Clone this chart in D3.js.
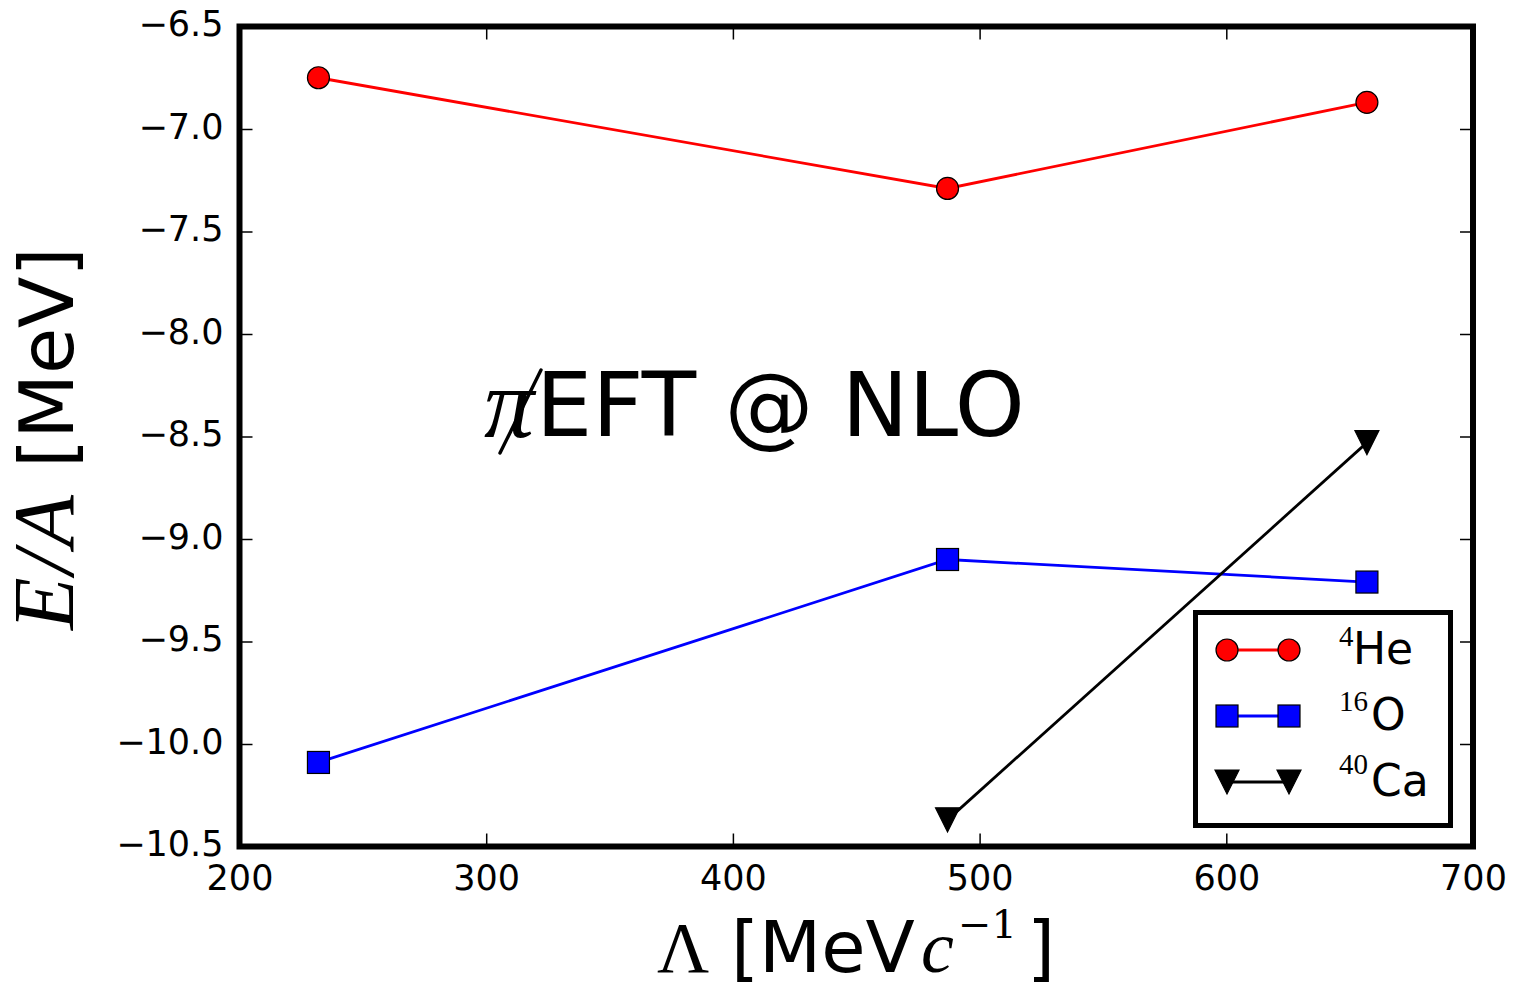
<!DOCTYPE html>
<html>
<head>
<meta charset="utf-8">
<script src="https://cdn.jsdelivr.net/npm/d3@7"></script>
<style>
  html, body { margin: 0; padding: 0; background: #fff; }
  svg { display: block; }
</style>
</head>
<body>
<svg id="chart" width="1513" height="983"></svg>
<script>
// Cutoff values (MeV c^-1) and binding energy per nucleon (MeV)
const lambdas = [232, 487, 657];
const he4 = [-6.75, -7.29, -6.87];
const o16 = [-10.09, -9.10, -9.21];
const ca40Lambdas = [487, 657];
const ca40 = [-10.37, -8.53];

const xTicks = [200, 300, 400, 500, 600, 700];
const yTicks = [-6.5, -7.0, -7.5, -8.0, -8.5, -9.0, -9.5, -10.0, -10.5];

const legendItems = [
  { sup: "4", name: "He", color: "#ff0000", marker: "circle" },
  { sup: "16", name: "O", color: "#0000ff", marker: "square" },
  { sup: "40", name: "Ca", color: "#000000", marker: "triangle" }
];

const svg = d3.select("#chart");
const plotLeft = 239.5, plotRight = 1473, plotTop = 26.5, plotBottom = 846.5;

const x = d3.scaleLinear().domain([200, 700]).range([plotLeft, plotRight]);
const y = d3.scaleLinear().domain([-10.5, -6.5]).range([plotBottom, plotTop]);

const SANS = "'DejaVu Sans', sans-serif";
const SERIF = "'Liberation Serif', 'DejaVu Serif', serif";

// Axes with inward ticks on all four sides
function styleAxis(g) {
  g.select(".domain").remove();
  g.selectAll(".tick line").attr("stroke", "#000").attr("stroke-width", 1.5);
  g.selectAll(".tick text")
    .attr("fill", "#000")
    .style("font-family", SANS)
    .style("font-size", "35px");
}

svg.append("g")
  .attr("transform", `translate(0,${plotBottom})`)
  .call(d3.axisBottom(x).tickValues(xTicks).tickSize(-13).tickPadding(19).tickFormat(d3.format("d")))
  .call(styleAxis);

svg.append("g")
  .attr("transform", `translate(0,${plotTop})`)
  .call(d3.axisTop(x).tickValues(xTicks).tickSize(-13).tickFormat(""))
  .call(styleAxis);

const yAxisG = svg.append("g")
  .attr("transform", `translate(${plotLeft},0)`)
  .call(d3.axisLeft(y).tickValues(yTicks).tickSize(-13).tickPadding(16).tickFormat(d3.format(".1f")))
  .call(styleAxis);
yAxisG.selectAll(".tick text").attr("dy", "0.26em");

svg.append("g")
  .attr("transform", `translate(${plotRight},0)`)
  .call(d3.axisRight(y).tickValues(yTicks).tickSize(-13).tickFormat(""))
  .call(styleAxis);

// Marker drawing
function drawMarker(g, type, cx, cy, color) {
  if (type === "circle") {
    g.append("circle").attr("cx", cx).attr("cy", cy).attr("r", 11)
      .attr("fill", color).attr("stroke", "#000").attr("stroke-width", 1.2);
  } else if (type === "square") {
    g.append("rect").attr("x", cx - 11).attr("y", cy - 11).attr("width", 22).attr("height", 22)
      .attr("fill", color).attr("stroke", "#000").attr("stroke-width", 1.2);
  } else {
    const s = 12;
    g.append("path")
      .attr("d", `M${cx - s},${cy - s}L${cx + s},${cy - s}L${cx},${cy + s}Z`)
      .attr("fill", color).attr("stroke", "#000").attr("stroke-width", 1.2);
  }
}

const line = d3.line().x(d => x(d[0])).y(d => y(d[1]));
const series = [
  { xs: lambdas, ys: he4, color: "#ff0000", marker: "circle" },
  { xs: lambdas, ys: o16, color: "#0000ff", marker: "square" },
  { xs: ca40Lambdas, ys: ca40, color: "#000000", marker: "triangle" }
];

const plot = svg.append("g");
series.forEach(s => {
  const pts = s.xs.map((v, i) => [v, s.ys[i]]);
  plot.append("path").datum(pts).attr("d", line)
    .attr("fill", "none").attr("stroke", s.color).attr("stroke-width", 2.8);
  const mg = plot.append("g");
  pts.forEach(p => drawMarker(mg, s.marker, x(p[0]), y(p[1]), s.color));
});

// Annotation: pionless EFT at NLO
const ann = svg.append("g");
ann.append("text").attr("x", 484).attr("y", 437)
  .style("font-family", SERIF).style("font-style", "italic").style("font-size", "100px")
  .text("π");
ann.append("path").attr("d", "M541,370L500,453").attr("stroke", "#000").attr("stroke-width", 3.4)
  .attr("fill", "none").attr("stroke-linecap", "round");
ann.append("text").attr("x", 536).attr("y", 436)
  .style("font-family", SANS).style("font-size", "89px")
  .text("EFT @ NLO");

// Legend
const lg = svg.append("g");
lg.append("rect").attr("x", 1195.5).attr("y", 612.5).attr("width", 255).attr("height", 213)
  .attr("fill", "#fff").attr("stroke", "#000").attr("stroke-width", 5);
const rowY = [650, 716, 782];
const baseY = [664, 730, 796];
const supY = [646, 711, 774];
legendItems.forEach((it, i) => {
  lg.append("line").attr("x1", 1227).attr("x2", 1289).attr("y1", rowY[i]).attr("y2", rowY[i])
    .attr("stroke", it.color).attr("stroke-width", 2.8);
  drawMarker(lg, it.marker, 1227, rowY[i], it.color);
  drawMarker(lg, it.marker, 1289, rowY[i], it.color);
  lg.append("text").attr("x", 1339).attr("y", supY[i])
    .style("font-family", SERIF).style("font-size", "29px").text(it.sup);
  lg.append("text").attr("x", it.sup.length > 1 ? 1371 : 1353).attr("y", baseY[i])
    .style("font-family", SANS).style("font-size", "44px").text(it.name);
});

// Axes frame
svg.append("rect").attr("x", plotLeft).attr("y", plotTop)
  .attr("width", plotRight - plotLeft).attr("height", plotBottom - plotTop)
  .attr("fill", "none").attr("stroke", "#000").attr("stroke-width", 6);

// X axis label: Λ [MeV c^-1]
const xl = svg.append("g");
xl.append("text").attr("x", 657).attr("y", 972)
  .style("font-family", SERIF).style("font-size", "72px").text("Λ");
xl.append("text").attr("x", 731).attr("y", 972)
  .style("font-family", SANS).style("font-size", "72px").text("[MeV");
xl.append("text").attr("x", 921).attr("y", 972)
  .style("font-family", SERIF).style("font-style", "italic").style("font-size", "74px").text("c");
xl.append("text").attr("x", 958).attr("y", 938)
  .style("font-family", "'DejaVu Serif', serif").style("font-size", "40px").text("−1");
xl.append("text").attr("x", 1055).attr("y", 972).attr("text-anchor", "end")
  .style("font-family", SANS).style("font-size", "72px").text("]");

// Y axis label: E/A [MeV]
const yl = svg.append("g").attr("transform", "translate(73,0) rotate(-90)");
yl.append("text").attr("x", -630).attr("y", 0)
  .style("font-family", SERIF).style("font-style", "italic").style("font-size", "86px")
  .style("letter-spacing", "3px").text("E/A");
yl.append("text").attr("x", -468).attr("y", 0)
  .style("font-family", SANS).style("font-size", "75px").text("[MeV]");
</script>
</body>
</html>
